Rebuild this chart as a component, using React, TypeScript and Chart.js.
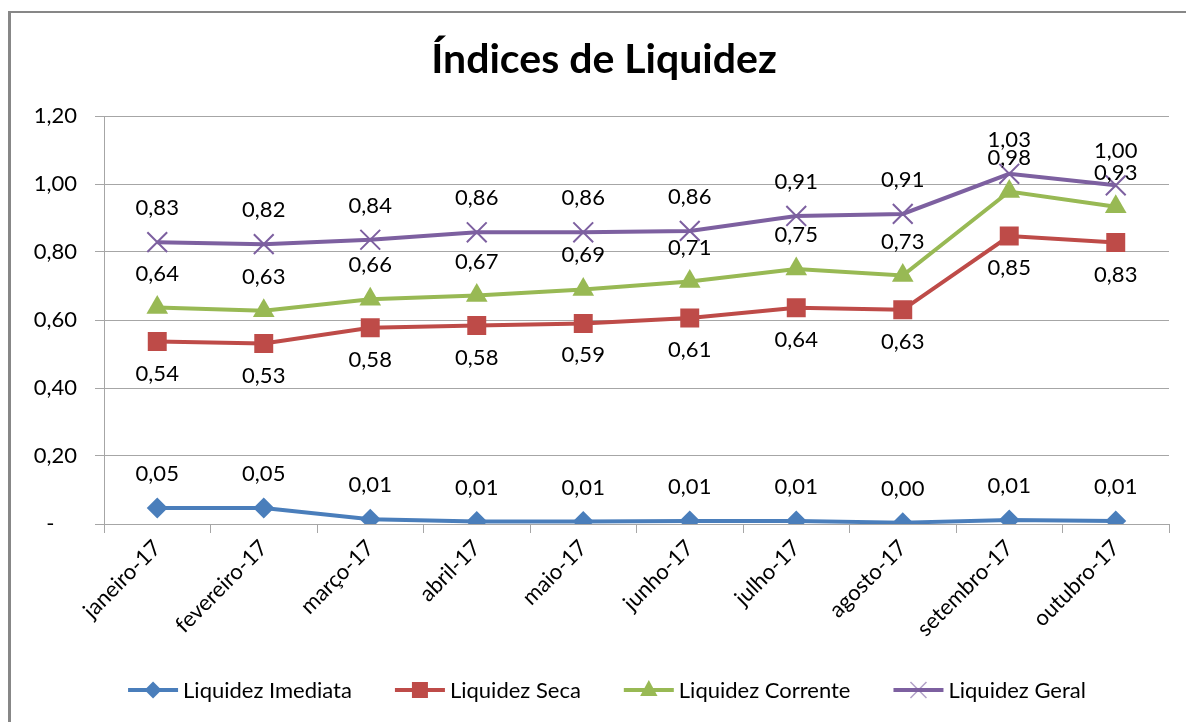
import React, { useEffect, useRef } from "react";
import { Chart, registerables } from "chart.js";

Chart.register(...registerables);

const W = 1186;
const H = 722;
const FONT = "Lato, 'Open Sans', sans-serif";

const months = [
  "janeiro-17",
  "fevereiro-17",
  "março-17",
  "abril-17",
  "maio-17",
  "junho-17",
  "julho-17",
  "agosto-17",
  "setembro-17",
  "outubro-17",
];

const liquidezImediata = [0.047, 0.047, 0.014, 0.007, 0.007, 0.009, 0.009, 0.004, 0.012, 0.009];
const liquidezSeca = [0.537, 0.531, 0.577, 0.584, 0.59, 0.606, 0.636, 0.63, 0.847, 0.828];
const liquidezCorrente = [0.637, 0.627, 0.661, 0.672, 0.69, 0.713, 0.75, 0.731, 0.978, 0.933];
const liquidezGeral = [0.829, 0.823, 0.836, 0.858, 0.858, 0.862, 0.906, 0.912, 1.03, 0.996];

const yTicks = [0, 0.2, 0.4, 0.6, 0.8, 1.0, 1.2];

const seriesNames = ["Liquidez Imediata", "Liquidez Seca", "Liquidez Corrente", "Liquidez Geral"];
const seriesColors = ["#4A7EBB", "#BE4B48", "#98B954", "#7D60A0"];
const seriesMarkers = ["rectRot", "rect", "triangle", "crossRot"];
const labelSide = ["above", "below", "above", "above"];

const fmt = (v: number) => v.toFixed(2).replace(".", ",");

function drawMarker(ctx: CanvasRenderingContext2D, type: string, x: number, y: number, color: string) {
  ctx.save();
  ctx.fillStyle = color;
  ctx.strokeStyle = color;
  ctx.beginPath();
  if (type === "rectRot") {
    const r = 8.5;
    ctx.moveTo(x, y - r);
    ctx.lineTo(x + r, y);
    ctx.lineTo(x, y + r);
    ctx.lineTo(x - r, y);
    ctx.closePath();
    ctx.fill();
  } else if (type === "rect") {
    const s = 8;
    ctx.rect(x - s, y - s, 2 * s, 2 * s);
    ctx.fill();
  } else if (type === "triangle") {
    const r = 10;
    ctx.moveTo(x, y - r);
    ctx.lineTo(x + r * 0.866, y + r * 0.5 + 1);
    ctx.lineTo(x - r * 0.866, y + r * 0.5 + 1);
    ctx.closePath();
    ctx.fill();
  } else {
    const r = 8;
    ctx.globalAlpha = 0.6;
    ctx.lineWidth = 1.5;
    ctx.moveTo(x - r, y - r);
    ctx.lineTo(x + r, y + r);
    ctx.moveTo(x + r, y - r);
    ctx.lineTo(x - r, y + r);
    ctx.stroke();
  }
  ctx.restore();
}

const decorPlugin = {
  id: "decor",
  beforeDraw(chart: any) {
    const ctx: CanvasRenderingContext2D = chart.ctx;
    ctx.save();
    ctx.fillStyle = "#ffffff";
    ctx.fillRect(0, 0, W, H);
    ctx.fillStyle = "#878787";
    ctx.fillRect(8, 11, W - 8, 2);
    ctx.fillRect(8, 11, 3, H - 11);
    ctx.restore();
  },
  afterDatasetsDraw(chart: any) {
    const ctx: CanvasRenderingContext2D = chart.ctx;
    ctx.save();
    ctx.font = `22px ${FONT}`;
    ctx.fillStyle = "#000";
    ctx.textAlign = "center";
    ctx.textBaseline = "middle";
    chart.data.datasets.forEach((ds: any, i: number) => {
      const meta = chart.getDatasetMeta(i);
      meta.data.forEach((pt: any, j: number) => {
        const v = ds.data[j];
        const dy = labelSide[i] === "above" ? -34 : 32;
        ctx.fillText(fmt(v), pt.x, pt.y + dy);
      });
    });
    ctx.restore();
  },
  afterDraw(chart: any) {
    const ctx: CanvasRenderingContext2D = chart.ctx;
    ctx.save();
    // title
    ctx.font = `bold 41px ${FONT}`;
    ctx.fillStyle = "#000";
    ctx.textAlign = "center";
    ctx.textBaseline = "alphabetic";
    ctx.fillText("Índices de Liquidez", 604, 73);

    // legend
    ctx.font = `22px ${FONT}`;
    ctx.textBaseline = "middle";
    ctx.textAlign = "left";
    const lineLen = 50;
    const textGap = 5;
    const itemGap = 43;
    const widths = seriesNames.map((n) => ctx.measureText(n).width);
    const total = widths.reduce((a, w) => a + lineLen + textGap + w, 0) + itemGap * (seriesNames.length - 1);
    let x = 607 - total / 2;
    const y = 690;
    seriesNames.forEach((name, i) => {
      ctx.strokeStyle = seriesColors[i];
      ctx.lineWidth = 4;
      ctx.beginPath();
      ctx.moveTo(x, y);
      ctx.lineTo(x + lineLen, y);
      ctx.stroke();
      drawMarker(ctx, seriesMarkers[i], x + lineLen / 2, y, seriesColors[i]);
      ctx.fillStyle = "#000";
      ctx.fillText(name, x + lineLen + textGap, y + 1);
      x += lineLen + textGap + widths[i] + itemGap;
    });
    ctx.restore();
  },
};

export default function App() {
  const canvasRef = useRef<HTMLCanvasElement | null>(null);

  useEffect(() => {
    document.body.style.margin = "0";
    const canvas = canvasRef.current;
    if (!canvas) return;
    const seriesData = [liquidezImediata, liquidezSeca, liquidezCorrente, liquidezGeral];
    const radii = [10.5, 13.4, 12.5, 14];
    const chart = new Chart(canvas, {
      type: "line",
      data: {
        labels: months,
        datasets: seriesData.map((d, i) => ({
          label: seriesNames[i],
          data: d,
          borderColor: seriesColors[i],
          backgroundColor: seriesColors[i],
          borderWidth: 4,
          pointStyle: seriesMarkers[i] as any,
          pointRadius: radii[i],
          pointBorderWidth: seriesMarkers[i] === "crossRot" ? 2 : 0,
          pointBackgroundColor: seriesColors[i],
          pointBorderColor: seriesColors[i],
          tension: 0,
          fill: false,
        })),
      },
      options: {
        animation: false,
        responsive: false,
        devicePixelRatio: 1,
        layout: { padding: { top: 116, right: 17, left: 0, bottom: 0 } },
        plugins: {
          legend: { display: false },
          title: { display: false },
          tooltip: { enabled: false },
        },
        scales: {
          x: {
            type: "category",
            offset: true,
            grid: {
              offset: true,
              drawOnChartArea: false,
              drawTicks: true,
              tickLength: 9,
              color: "#a6a6a6",
            },
            border: { display: true, color: "#a6a6a6", width: 1 },
            ticks: {
              minRotation: 45,
              maxRotation: 45,
              autoSkip: false,
              padding: 2,
              color: "#000",
              font: { family: FONT, size: 22 },
            },
            afterFit(scale: any) {
              scale.height = 198;
            },
          },
          y: {
            min: 0,
            max: 1.2,
            afterBuildTicks(scale: any) {
              scale.ticks = yTicks.map((v) => ({ value: v }));
            },
            ticks: {
              padding: 18,
              color: "#000",
              font: { family: FONT, size: 22 },
              callback: (v: any) => (Number(v) === 0 ? "-    " : fmt(Number(v))),
            },
            grid: { color: "#a6a6a6", tickLength: 9, lineWidth: 1 },
            border: { display: true, color: "#a6a6a6", width: 1 },
            afterFit(scale: any) {
              scale.width = 104;
            },
          },
        },
      },
      plugins: [decorPlugin],
    });
    return () => chart.destroy();
  }, []);

  return <canvas ref={canvasRef} width={W} height={H} style={{ display: "block", width: W, height: H }} />;
}
